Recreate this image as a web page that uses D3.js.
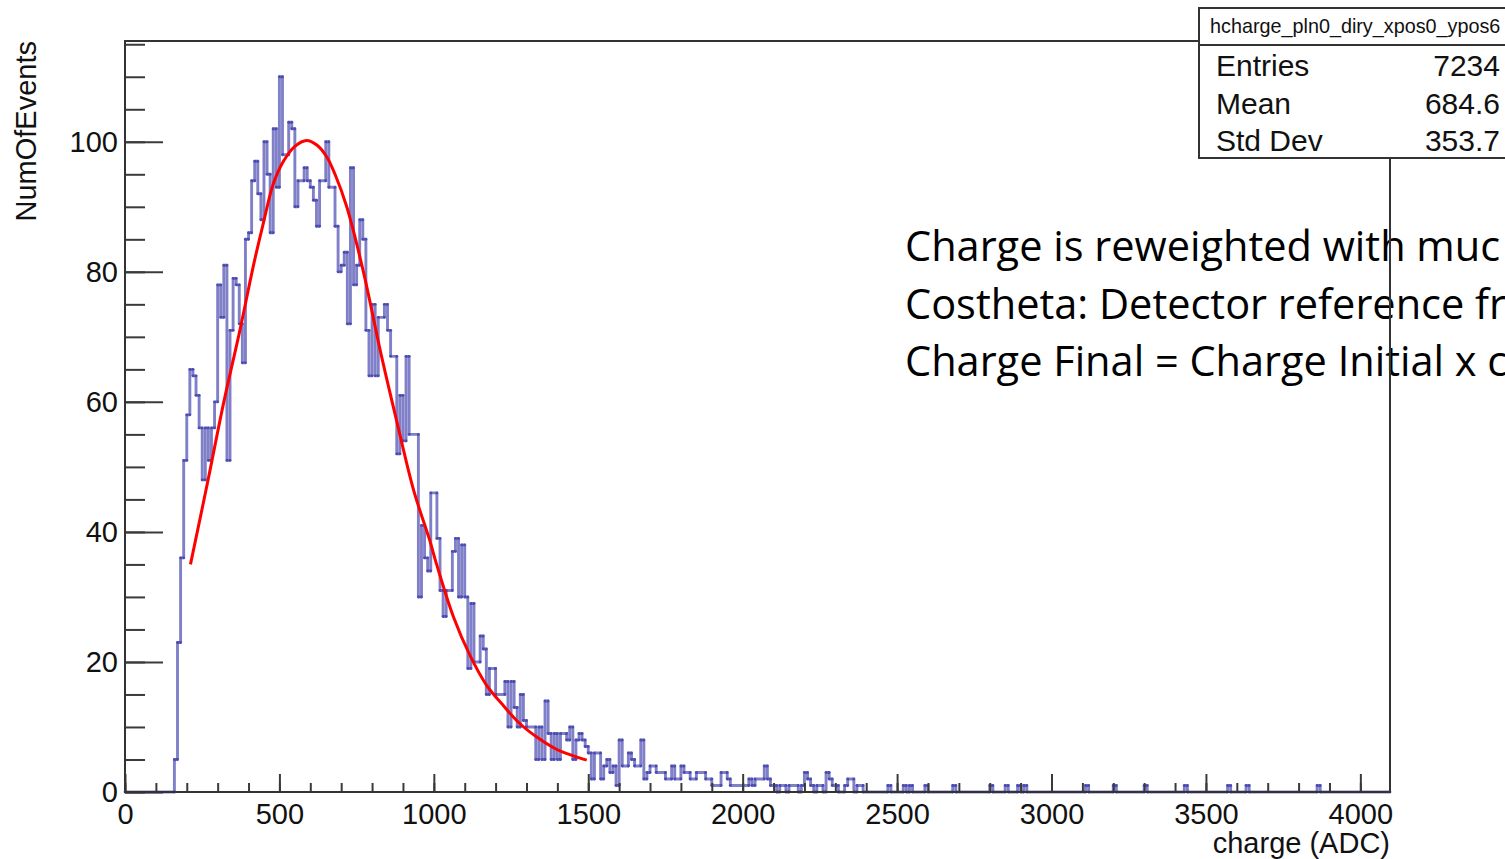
<!DOCTYPE html>
<html>
<head>
<meta charset="utf-8">
<script src="https://cdn.jsdelivr.net/npm/d3@7"></script>
<style>
  body { margin: 0; background: #fff; }
  svg { display: block; }
</style>
</head>
<body>
<script>
// histogram: bins of 10 ADC starting at 160
var binStart = 160;
var binWidth = 10;
var counts = [
  5, 23, 36, 51, 58, 65, 64, 61, 56, 48,
  56, 51, 56, 60, 78, 73, 81, 51, 71, 79,
  78, 72, 66, 85, 86, 94, 97, 92, 88, 100,
  95, 86, 102, 93, 110, 98, 98, 103, 102, 90,
  94, 94, 96, 94, 93, 91, 87, 94, 94, 100,
  93, 93, 87, 80, 81, 83, 72, 96, 78, 81,
  88, 85, 71, 64, 75, 64, 73, 73, 75, 71,
  67, 67, 52, 61, 54, 67, 55, 55, 55, 30,
  41, 36, 34, 46, 46, 39, 31, 27, 31, 31,
  37, 39, 30, 38, 30, 19, 29, 20, 20, 24,
  22, 15, 19, 19, 15, 15, 15, 17, 10, 17,
  13, 10, 15, 11, 10, 10, 10, 5, 10, 5,
  14, 9, 5, 9, 5, 9, 9, 8, 10, 5,
  8, 9, 8, 7, 6, 2, 6, 6, 2, 4,
  5, 3, 4, 1, 8, 4, 4, 6, 5, 4,
  4, 8, 2, 3, 4, 4, 3, 3, 3, 2,
  2, 4, 2, 2, 4, 3, 3, 2, 2, 3,
  3, 3, 2, 2, 1, 1, 1, 3, 3, 2,
  1, 1, 1, 1, 1, 1, 2, 1, 2, 2,
  2, 4, 2, 1, 1, 0
];
// sparse tail above 2110 ADC
var tailBinStarts = [2120, 2130, 2150, 2160, 2170, 2190, 2200, 2210, 2220, 2240,
  2250, 2270, 2280, 2290, 2300, 2330, 2340, 2350, 2370, 2380,
  2470, 2520, 2540, 2590, 2680, 2800, 2850, 2890, 2910, 3110,
  3200, 3300, 3430, 3570, 3630, 3860];
var tailCounts = [1, 1, 1, 1, 1, 1, 3, 2, 1, 1,
  1, 3, 2, 1, 1, 1, 2, 2, 1, 1,
  1, 1, 1, 1, 1, 1, 1, 1, 1, 1,
  1, 1, 1, 1, 1, 1];

// fit curve
var fitAdc = [212, 269, 320, 372, 416, 448, 480, 513, 550, 588, 621, 653, 680, 718, 772,
  826, 880, 934, 988, 1009, 1063, 1117, 1171, 1225, 1279, 1338, 1400, 1450, 1495];
var fitValues = [35, 48, 60, 71, 81, 87.5, 93.5, 97, 99.3, 100.2, 99.5, 97.7, 95, 90, 80,
  68, 57, 46.5, 38.5, 35, 27, 21, 16.4, 13.3, 10.5, 8.3, 6.5, 5.6, 4.9];

var xMajorTicks = [0, 500, 1000, 1500, 2000, 2500, 3000, 3500, 4000];
var yMajorTicks = [0, 20, 40, 60, 80, 100];

var statsTitle = 'hcharge_pln0_diry_xpos0_ypos6';
var statsNames = ['Entries', 'Mean', 'Std Dev'];
var statsValues = ['7234', '684.6', '353.7'];

// the slide text runs off the right edge in the reference
var noteLines = [
  'Charge is reweighted with muc',
  'Costheta: Detector reference fr',
  'Charge Final = Charge Initial x c'
];

var width = 1505;
var height = 859;
var frame = { left: 125, top: 41, right: 1390, bottom: 792 };
var xMax = 4096;
var yMax = 115.5;

var svg = d3.select('body')
            .append('svg')
            .attr('width', width)
            .attr('height', height);

var xScale = d3.scaleLinear().domain([0, xMax]).range([frame.left, frame.right]);
var yScale = d3.scaleLinear().domain([0, yMax]).range([frame.bottom, frame.top]);

// build all bins over the full axis range
var tailMap = {};
tailBinStarts.forEach(function (b, i) { tailMap[b] = tailCounts[i]; });
var bins = [];
for (var b = 0; b < xMax; b += binWidth) {
  var v = 0;
  var k = (b - binStart) / binWidth;
  if (k >= 0 && k < counts.length) v = counts[k];
  else if (tailMap[b] !== undefined) v = tailMap[b];
  bins.push({ x0: b, x1: Math.min(b + binWidth, xMax), v: v });
}

// step vertices, merging flat runs
var verts = [[0, bins[0].v]];
bins.forEach(function (d, i) {
  var last = verts[verts.length - 1];
  if (last[1] !== d.v) verts.push([d.x0, d.v]);
  if (i === bins.length - 1 || bins[i + 1].v !== d.v) verts.push([d.x1, d.v]);
});
var segs = [];
for (var i = 1; i < verts.length; i++) {
  segs.push({ a: verts[i - 1], b: verts[i] });
}

svg.append('g')
   .selectAll('line')
   .data(segs)
   .enter()
   .append('line')
   .attr('x1', function (d) { return xScale(d.a[0]); })
   .attr('y1', function (d) { return yScale(d.a[1]); })
   .attr('x2', function (d) { return xScale(d.b[0]); })
   .attr('y2', function (d) { return yScale(d.b[1]); })
   .attr('stroke', '#2525a0')
   .attr('stroke-opacity', 0.58)
   .attr('stroke-width', 2.9)
   .attr('stroke-linecap', 'round');

// fit
var fitLine = d3.line()
                .x(function (d, i) { return xScale(fitAdc[i]); })
                .y(function (d) { return yScale(d); })
                .curve(d3.curveCatmullRom);
svg.append('path')
   .attr('d', fitLine(fitValues))
   .attr('fill', 'none')
   .attr('stroke', '#ff0000')
   .attr('stroke-width', 3);

// annotation (under the frame line)
svg.append('g')
   .selectAll('text')
   .data(noteLines)
   .enter()
   .append('text')
   .attr('x', 905)
   .attr('y', function (d, i) { return 261 + i * 57.5; })
   .attr('font-family', '"Open Sans", Lato, sans-serif')
   .attr('font-size', 41.5)
   .attr('fill', '#000')
   .text(function (d) { return d; });

// axes
var tickFont = 'Liberation Sans, Arial, sans-serif';
function styleAxis(g) {
  g.select('.domain').remove();
  g.selectAll('.tick line').attr('stroke', '#3a3a3a').attr('stroke-width', 2);
  g.selectAll('.tick text')
   .attr('font-family', tickFont)
   .attr('font-size', 29)
   .attr('fill', '#111');
}

var xMinor = d3.axisBottom(xScale)
               .tickValues(d3.range(0, xMax, 100))
               .tickSize(-9)
               .tickFormat('');
svg.append('g')
   .attr('transform', 'translate(0,' + frame.bottom + ')')
   .call(xMinor)
   .call(styleAxis);

var xAxis = d3.axisBottom(xScale)
              .tickValues(xMajorTicks)
              .tickSize(-18)
              .tickPadding(11)
              .tickFormat(d3.format('d'));
svg.append('g')
   .attr('transform', 'translate(0,' + frame.bottom + ')')
   .call(xAxis)
   .call(styleAxis);

var yMinor = d3.axisLeft(yScale)
               .tickValues(d3.range(0, yMax, 5))
               .tickSize(-20)
               .tickFormat('');
svg.append('g')
   .attr('transform', 'translate(' + frame.left + ',0)')
   .call(yMinor)
   .call(styleAxis);

var yAxis = d3.axisLeft(yScale)
              .tickValues(yMajorTicks)
              .tickSize(-38)
              .tickPadding(7)
              .tickFormat(d3.format('d'));
svg.append('g')
   .attr('transform', 'translate(' + frame.left + ',0)')
   .call(yAxis)
   .call(styleAxis);

// frame
svg.append('rect')
   .attr('x', frame.left)
   .attr('y', frame.top)
   .attr('width', frame.right - frame.left)
   .attr('height', frame.bottom - frame.top)
   .attr('fill', 'none')
   .attr('stroke', '#333')
   .attr('stroke-width', 2);

// axis titles
svg.append('text')
   .attr('x', frame.right)
   .attr('y', 853)
   .attr('text-anchor', 'end')
   .attr('font-family', tickFont)
   .attr('font-size', 29)
   .attr('fill', '#111')
   .text('charge (ADC)');

svg.append('text')
   .attr('transform', 'translate(36,' + frame.top + ') rotate(-90)')
   .attr('text-anchor', 'end')
   .attr('font-family', tickFont)
   .attr('font-size', 29)
   .attr('fill', '#111')
   .text('NumOfEvents');

// stats box
var box = svg.append('g');
box.append('rect')
   .attr('x', 1199)
   .attr('y', 8)
   .attr('width', 330)
   .attr('height', 150)
   .attr('fill', '#fff')
   .attr('stroke', '#333')
   .attr('stroke-width', 2);
box.append('line')
   .attr('x1', 1199).attr('x2', 1530)
   .attr('y1', 45).attr('y2', 45)
   .attr('stroke', '#333')
   .attr('stroke-width', 2);
box.append('text')
   .attr('x', 1210)
   .attr('y', 33)
   .attr('font-family', tickFont)
   .attr('font-size', 19.8)
   .attr('fill', '#111')
   .text(statsTitle);
box.selectAll('.sname')
   .data(statsNames)
   .enter()
   .append('text')
   .attr('class', 'sname')
   .attr('x', 1216)
   .attr('y', function (d, i) { return 76 + i * 37.5; })
   .attr('font-family', tickFont)
   .attr('font-size', 30)
   .attr('fill', '#111')
   .text(function (d) { return d; });
box.selectAll('.sval')
   .data(statsValues)
   .enter()
   .append('text')
   .attr('class', 'sval')
   .attr('x', 1500)
   .attr('y', function (d, i) { return 76 + i * 37.5; })
   .attr('text-anchor', 'end')
   .attr('font-family', tickFont)
   .attr('font-size', 30)
   .attr('fill', '#111')
   .text(function (d) { return d; });
</script>
</body>
</html>
